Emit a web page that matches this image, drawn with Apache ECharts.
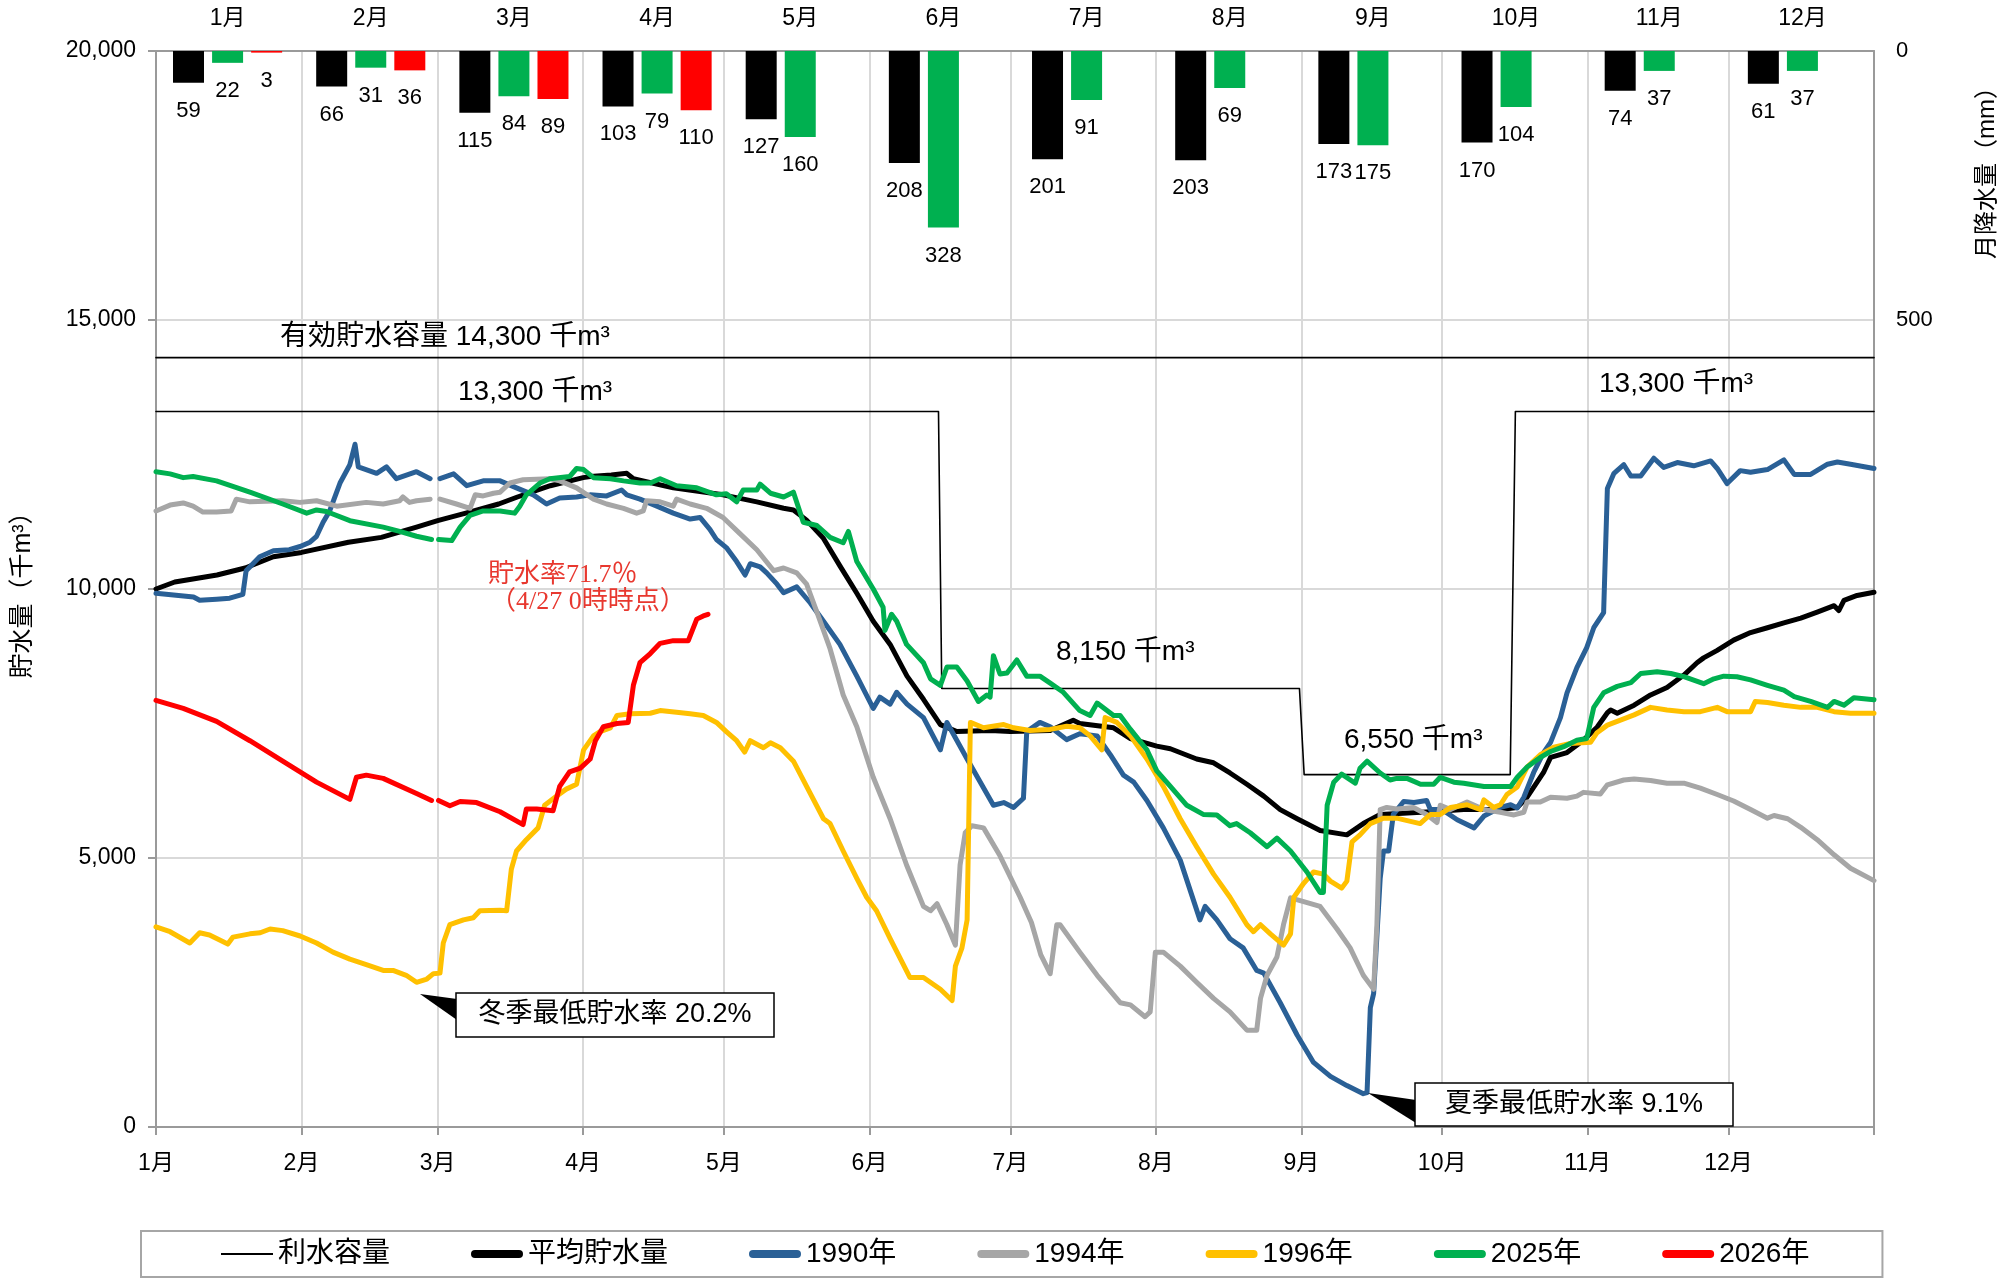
<!DOCTYPE html>
<html><head><meta charset="utf-8">
<script src="https://cdn.jsdelivr.net/npm/echarts@6/dist/echarts.min.js"></script>
<style>html,body{margin:0;padding:0;background:#fff}#c{width:2008px;height:1279px}</style>
</head><body><div id="c"></div>
<script>
// ---- categories / ticks ----
const months = ['1月','2月','3月','4月','5月','6月','7月','8月','9月','10月','11月','12月'];
const monthStartDays = [0,31,60,91,121,152,182,213,244,274,305,335,366];
const rightAxisLabels = [0,500];

// ---- monthly rainfall (mm) ----
const rainAvg  = [59,66,115,103,127,208,201,203,173,170,74,61];
const rain2025 = [22,31,84,79,160,328,91,69,175,104,37,37];
const rain2026 = [3,36,89,110,'-','-','-','-','-','-','-','-'];

// ---- capacities (千m3) ----
const effectiveCapacity = [[0,14300],[366,14300]];
const utilCapacity = [[0,13300],[166.7,13300],[167.4,8150],[243.6,8150],[244.6,6550],[288.5,6550],[289.6,13300],[366,13300]];

// ---- storage (day of year, 千m3) ----
const avgStorage = [[0,10000],[4,10130],[13,10260],[19,10390],[25,10600],[31,10680],[41,10870],[48,10960],[55.5,11150],[60,11270],[66,11410],[73,11580],[77,11710],[84,11920],[91,12070],[92.5,12090],[97,12120],[100.3,12150],[101.7,12050],[110.2,11880],[120.8,11750],[128,11620],[133.7,11500],[135.8,11470],[138.6,11280],[142.2,10940],[145.7,10430],[149.3,9920],[152.8,9400],[156.4,8970],[160,8380],[163.5,7950],[167.1,7480],[170.6,7350],[177.7,7370],[182,7350],[190.5,7370],[195.4,7560],[196.8,7500],[204,7420],[207.6,7220],[213.2,7080],[216.1,7030],[221.7,6840],[225.3,6770],[228.8,6580],[232.4,6370],[236,6150],[239.5,5900],[243.1,5730],[248,5510],[253.7,5430],[257.2,5640],[260.8,5810],[271.5,5860],[278.6,5900],[286.4,5900],[290,5940],[292.1,6130],[295.6,6590],[297.1,6870],[300.6,6960],[304.1,7190],[307,7430],[309.2,7700],[309.9,7750],[311.3,7690],[314.9,7840],[318.4,8030],[321.9,8170],[325.5,8400],[328.3,8630],[329.7,8720],[332.6,8860],[336.1,9050],[339.7,9190],[343.3,9280],[346.8,9370],[350.4,9460],[353.9,9570],[357.5,9690],[358.5,9600],[359.6,9790],[362.4,9880],[366,9940]];

const s1990 = [[0,9920],[8,9850],[9.3,9790],[12.9,9810],[15.7,9830],[18.5,9900],[19.2,10340],[22.1,10600],[25,10710],[28.4,10730],[30.7,10790],[32.8,10870],[34.2,10980],[35.6,11240],[37,11450],[39.2,11970],[41.3,12310],[42.4,12690],[43.1,12270],[47,12150],[49.1,12270],[51.2,12050],[55.5,12180],[58.4,12050],[59,'-'],[60.5,12050],[63.4,12140],[66.2,11920],[69.7,12010],[73.3,12010],[76.8,11880],[80.4,11750],[83.2,11580],[86,11690],[89.6,11710],[92.5,11750],[96,11730],[99.2,11840],[100.3,11750],[103.1,11670],[106.7,11540],[110.2,11410],[113.8,11300],[115.9,11330],[118,11110],[119.4,10920],[121.5,10770],[123.7,10510],[125.5,10260],[126.6,10470],[128.7,10410],[130.1,10300],[132.3,10090],[133.7,9930],[136.5,10040],[139.4,9740],[142.2,9400],[145.7,8970],[149.3,8380],[152.8,7780],[154.2,7990],[156.4,7860],[157.8,8080],[160,7860],[163.5,7610],[167.1,7010],[168.5,7520],[172.8,6840],[178.4,5980],[180.6,6030],[182.7,5940],[184.8,6110],[185.5,7350],[188.3,7520],[190.5,7440],[194,7200],[196.8,7310],[200.5,7270],[203.3,6920],[206.1,6540],[208.3,6410],[211.1,6070],[214.6,5560],[218.2,4960],[222.4,3850],[223.5,4100],[226,3850],[228.8,3500],[231.6,3330],[234.5,2910],[236,2860],[239.5,2310],[243.1,1710],[246.6,1200],[250.2,940],[253.7,770],[257.2,620],[258,640],[258.7,2220],[259.4,2480],[260.8,4620],[261.5,5130],[262.6,5130],[263.6,5810],[265.8,6050],[268,6030],[270.7,6070],[271.5,5900],[274,5900],[277.2,5710],[280.8,5560],[282.9,5780],[286.4,5940],[288.6,5990],[290,5930],[291.4,6130],[293.5,6590],[295.6,6960],[297.1,7150],[299.2,7610],[300.6,8070],[302.7,8540],[304.8,8910],[306.3,9280],[308.4,9560],[309.2,11870],[310.6,12150],[312.7,12310],[314.2,12100],[316.3,12100],[319.1,12430],[321.2,12260],[324.1,12350],[327.6,12290],[331.2,12380],[332.6,12240],[334.7,11960],[337.5,12200],[339.7,12170],[343.3,12220],[346.8,12400],[349,12130],[352.5,12130],[356.1,12320],[358.2,12360],[361,12320],[366,12240]];

const s1994 = [[0,11450],[3,11560],[5.8,11600],[7.9,11540],[10,11430],[12.9,11430],[16,11450],[17.1,11670],[20,11620],[27,11640],[30.7,11610],[34.2,11640],[38.5,11540],[44.8,11610],[48.4,11580],[51.9,11640],[52.6,11710],[54,11610],[55.5,11640],[58.4,11670],[59,'-'],[60.5,11670],[64,11580],[66.9,11500],[68,11750],[69.7,11730],[71.9,11780],[73.3,11800],[75.4,11970],[78.2,12030],[83.9,12050],[86,12010],[89.6,11880],[93.2,11670],[96,11580],[99.6,11500],[102.4,11410],[103.8,11450],[104.5,11640],[107.4,11620],[110.2,11540],[110.9,11670],[113.8,11580],[117.3,11500],[120.8,11330],[124.4,11030],[128,10730],[131.6,10340],[133.7,10390],[136.5,10300],[138.6,10090],[140.8,9570],[143.6,8890],[146.4,8030],[149.3,7440],[152.8,6500],[156.4,5730],[159.9,4870],[163.5,4100],[165,4020],[166.4,4150],[168.5,3760],[170.3,3380],[171.3,4870],[172.4,5470],[173.8,5600],[176.3,5560],[179.8,5040],[184.1,4270],[186.5,3800],[188.5,3200],[190.5,2850],[191.9,3760],[192.6,3760],[196.8,3250],[200.5,2820],[205.4,2310],[207.6,2270],[210.7,2050],[211.8,2140],[212.9,3250],[214.6,3250],[218.2,2990],[221.7,2690],[225.3,2390],[228.8,2140],[232.4,1800],[234.5,1800],[235.3,2390],[236.7,2820],[238.8,3160],[240.2,3760],[241.7,4260],[244.5,4190],[248,4100],[251.6,3680],[254.4,3330],[257.2,2820],[259.4,2560],[260.1,3760],[260.8,5900],[262.2,5940],[264.3,5910],[267.9,5940],[270.7,5810],[272.9,5660],[273.6,5980],[275.8,5900],[279.3,6040],[282.9,5900],[286.4,5850],[289.3,5800],[291.4,5850],[292.1,6040],[294.9,6040],[297.1,6130],[300.6,6110],[302.7,6150],[304.1,6220],[307.7,6190],[309.2,6360],[312.7,6450],[314.9,6470],[318.4,6440],[321.9,6390],[325.5,6390],[329,6300],[332.6,6180],[336.1,6060],[339.7,5900],[343.3,5740],[344.7,5790],[347.6,5730],[350.4,5570],[353.9,5340],[357.5,5060],[361,4810],[366,4580]];

const s1996 = [[0,3720],[3,3630],[7.2,3420],[9.3,3610],[11.4,3570],[15.3,3400],[16.4,3530],[20,3590],[22.2,3610],[24.3,3680],[27,3650],[30.7,3550],[34.2,3420],[37.7,3250],[41.3,3120],[44.8,3020],[48.4,2910],[50.5,2910],[53.3,2820],[55.5,2690],[57.7,2750],[59.1,2850],[60.5,2860],[61.2,3420],[62.6,3760],[65.5,3850],[67.6,3890],[69,4020],[73.3,4030],[74.7,4020],[75.7,4790],[76.8,5130],[78.9,5340],[81.4,5560],[82.8,5980],[85.3,6150],[87.4,6280],[89.6,6370],[91.1,7010],[93.2,7270],[94.6,7350],[96.8,7420],[98.2,7650],[101,7680],[105.3,7690],[107.4,7740],[110.9,7710],[113.8,7680],[116.6,7650],[119.4,7520],[121.5,7350],[123.7,7180],[125.4,6970],[126.6,7180],[129.4,7050],[130.9,7140],[133,7050],[135.8,6800],[138.6,6330],[142.2,5730],[143.6,5640],[146.4,5130],[149.3,4620],[151.4,4270],[153.5,4020],[156.4,3500],[160.6,2780],[163.5,2780],[167.1,2560],[169.6,2350],[170.3,2990],[171.7,3330],[172.8,3850],[173.5,7520],[176.3,7420],[180.6,7480],[182.7,7420],[186.2,7370],[190.5,7390],[194,7450],[196.8,7420],[199,7270],[201.5,7010],[202.2,7610],[204.7,7520],[207.6,7270],[211.1,6840],[214.6,6330],[218.2,5730],[221.7,5210],[225.3,4700],[228.8,4270],[232.4,3760],[233.8,3630],[235.3,3760],[237.4,3590],[240.2,3380],[241.7,3590],[242.4,4270],[244.5,4530],[246.6,4740],[248.7,4700],[250.2,4570],[252.6,4440],[253.7,4570],[254.8,5300],[256.5,5430],[258.7,5640],[261.5,5740],[264.3,5740],[269.3,5640],[271.5,5810],[273.6,5810],[275.8,5940],[279.3,5990],[282.2,5900],[282.9,6080],[285,5940],[286.4,5990],[287.8,6180],[290,6320],[292.1,6690],[294.9,6920],[297.8,7060],[301.3,7130],[305.6,7150],[307,7330],[309.2,7470],[314.9,7660],[318.4,7800],[321.9,7750],[325.5,7720],[329,7720],[332.6,7800],[334.7,7720],[339.7,7720],[340.7,7910],[343.3,7890],[346.8,7840],[350.4,7800],[353.9,7800],[357.5,7720],[361,7690],[366,7690]];

const s2025 = [[0,12180],[3,12140],[5.8,12070],[7.9,12090],[12.9,12010],[20,11800],[27,11580],[32.1,11410],[34.2,11470],[36.3,11440],[41.3,11270],[48.4,11150],[51.9,11070],[55.5,10980],[58.7,10920],[59,'-'],[60.2,10920],[63,10900],[64.8,11150],[66.9,11370],[69.7,11450],[73.3,11450],[76.4,11410],[77.5,11540],[78.9,11750],[81.8,11970],[83.9,12050],[88.1,12090],[89.6,12240],[91.1,12220],[93.2,12070],[96.8,12050],[99.6,12010],[103.1,11970],[105.3,11970],[107.4,12050],[110.9,11920],[115.2,11880],[119.4,11750],[121.5,11770],[123.7,11620],[125.1,11840],[128,11840],[128.7,11950],[130.9,11780],[133.7,11710],[135.8,11800],[137.9,11240],[140.8,11180],[143.6,10960],[146.4,10860],[147.5,11070],[149.3,10510],[152.8,10000],[154.9,9660],[155.3,9230],[156.7,9530],[157.8,9400],[159.9,8970],[163.5,8630],[165,8330],[167.1,8210],[168.5,8550],[170.6,8550],[172.8,8290],[175.2,7910],[177,8030],[177.7,7990],[178.4,8760],[179.8,8420],[181.3,8440],[183.4,8680],[185.5,8380],[188.3,8380],[190.5,8250],[193.3,8080],[196.8,7740],[199,7650],[200.5,7880],[204,7650],[205.4,7650],[207.6,7390],[211.1,7010],[213.2,6620],[216.1,6330],[219.6,5980],[223.1,5810],[226,5800],[228.8,5600],[230.2,5640],[233.1,5470],[236.7,5210],[238.8,5370],[241.7,5130],[245.2,4740],[248,4360],[248.7,4360],[249.5,5980],[250.9,6410],[252.6,6560],[255.5,6390],[256.5,6670],[258,6800],[260.8,6580],[262.9,6450],[264.3,6480],[266.5,6480],[269.4,6370],[272.2,6370],[273.6,6500],[276.5,6410],[278.6,6390],[282.9,6330],[288.6,6330],[290,6500],[292.1,6690],[294.9,6870],[297.1,6980],[299.9,7070],[302.7,7190],[304.8,7220],[306.3,7800],[308.4,8070],[311.3,8190],[314.2,8260],[316.3,8430],[319.8,8460],[322.7,8430],[325.5,8370],[329.7,8240],[331.9,8330],[334,8380],[336.8,8370],[339.7,8310],[343.3,8210],[346.8,8120],[349,8000],[352.5,7910],[356.1,7800],[357.5,7910],[359.6,7840],[361.7,7980],[366,7940]];

const s2026 = [[0,7930],[5.8,7780],[12.9,7540],[20,7180],[27,6800],[34.2,6410],[41.3,6090],[42.7,6500],[44.8,6540],[48.4,6480],[55.5,6200],[58.7,6070],[59,'-'],[60.2,6070],[62.6,5970],[64.8,6050],[68.3,6030],[73.3,5860],[78.2,5620],[78.9,5910],[81.1,5910],[84.6,5880],[86,6330],[88.1,6600],[90.4,6670],[92.5,6840],[93.6,7180],[95.3,7440],[98.2,7500],[100.6,7520],[101.7,8210],[103.1,8630],[105.3,8800],[107.4,8990],[110.2,9040],[113.4,9040],[115.2,9440],[116.6,9500],[117.6,9530]];

const FONT = "'Liberation Sans', Arial, 'Noto Sans CJK JP', sans-serif";
const SERIF = "'Liberation Serif', 'Noto Sans CJK JP', serif";
const chart = echarts.init(document.getElementById('c'), null, {renderer:'canvas'});
const GRID = '#d9d9d9', AXIS = '#9a9a9a';

function lineSeries(name, data, color, width, z) {
  return {type:'line', name, data, xAxisIndex:0, yAxisIndex:0, symbol:'none', showSymbol:false,
    connectNulls:false, silent:true, z:z||3, animation:false,
    lineStyle:{color, width, cap:'round', join:'round'}, itemStyle:{color}};
}
function barSeries(name, data, color) {
  return {type:'bar', name, data, xAxisIndex:1, yAxisIndex:1, barWidth:31, barGap:'26%', silent:true,
    itemStyle:{color}, label:{show:true, position:'bottom', distance:17, color:'#000', fontSize:22, fontFamily:FONT,
    formatter:(p)=> (p.value==='-'||p.value==null)?'':String(p.value)}};
}
function txt(x, y, text, size, extra) {
  return Object.assign({type:'text', x, y, z:10, silent:true,
    style:Object.assign({text, font:size+'px '+FONT, fill:'#000', align:'left', verticalAlign:'middle'}, extra||{})});
}
const thick = 'path://M4,0H48A4,4,0,0,1,48,8H4A4,4,0,0,1,4,0Z';
const thin = 'path://M0,0H52V2H0Z';

const option = {
  animation:false,
  backgroundColor:'#fff',
  textStyle:{fontFamily:FONT},
  grid:{left:156, right:134, top:51, bottom:152, containLabel:false},
  legend:{
    left:141, top:1231, orient:'horizontal', itemGap:81, itemWidth:52, itemHeight:8,
    padding:[9,73,9,80], borderColor:'#a6a6a6', borderWidth:2, selectedMode:false,
    textStyle:{fontSize:28, color:'#000', fontFamily:FONT},
    data:[
      {name:'利水容量', icon:thin},
      {name:'平均貯水量', icon:thick},
      {name:'1990年', icon:thick},
      {name:'1994年', icon:thick},
      {name:'1996年', icon:thick},
      {name:'2025年', icon:thick},
      {name:'2026年', icon:thick}
    ]
  },
  xAxis:[
    {type:'value', position:'bottom', min:0, max:366,
      axisLine:{show:true, lineStyle:{color:AXIS, width:2}},
      axisTick:{show:true, length:8, customValues:monthStartDays, lineStyle:{color:AXIS, width:2}},
      axisLabel:{customValues:monthStartDays.slice(0,12), margin:25, fontSize:23, color:'#000', fontFamily:FONT,
        formatter:(v)=>{const i=monthStartDays.indexOf(v); return i>=0&&i<12?months[i]:'';}},
      splitLine:{show:true, lineStyle:{color:GRID, width:2}}
    },
    {type:'category', position:'top', data:months, boundaryGap:true,
      axisLine:{show:true, lineStyle:{color:AXIS, width:2}},
      axisTick:{show:false},
      axisLabel:{margin:21, fontSize:23, color:'#000', fontFamily:FONT},
      splitLine:{show:false}
    }
  ],
  yAxis:[
    {type:'value', min:0, max:20000, interval:5000, position:'left',
      axisLine:{show:true, lineStyle:{color:AXIS, width:2}},
      axisTick:{show:true, length:8, lineStyle:{color:AXIS, width:2}},
      axisLabel:{margin:20, fontSize:23, color:'#000', fontFamily:FONT},
      splitLine:{show:true, lineStyle:{color:GRID, width:2}}
    },
    {type:'value', min:0, max:2000, inverse:true, position:'right',
      axisLine:{show:true, lineStyle:{color:AXIS, width:2}},
      axisTick:{show:false},
      axisLabel:{customValues:rightAxisLabels, margin:22, fontSize:22, color:'#000', fontFamily:FONT},
      splitLine:{show:false}
    }
  ],
  series:[
    barSeries('降水量平年', rainAvg, '#000000'),
    barSeries('降水量2025', rain2025, '#00b050'),
    barSeries('降水量2026', rain2026, '#ff0000'),
    lineSeries('有効貯水容量', effectiveCapacity, '#000', 1.6, 2),
    lineSeries('利水容量', utilCapacity, '#000', 1.6, 2),
    lineSeries('平均貯水量', avgStorage, '#000000', 5),
    lineSeries('1990年', s1990, '#2a6096', 5),
    lineSeries('1994年', s1994, '#a6a6a6', 5),
    lineSeries('1996年', s1996, '#ffc000', 5),
    lineSeries('2025年', s2025, '#00b050', 5),
    lineSeries('2026年', s2026, '#ff0000', 5)
  ],
  graphic:[
    Object.assign(txt(23, 589, '貯水量（千m³）', 25, {align:'center'}), {rotation:Math.PI/2}),
    Object.assign(txt(1987, 167, '月降水量（mm）', 24, {align:'center'}), {rotation:Math.PI/2}),
    txt(280, 337, '有効貯水容量 14,300 千m³', 28),
    txt(458, 392, '13,300 千m³', 28),
    txt(1056, 652, '8,150 千m³', 28),
    txt(1344, 740, '6,550 千m³', 28),
    txt(1599, 384, '13,300 千m³', 28),
    txt(488, 575, '貯水率71.7％', 26, {font:'26px '+SERIF, fill:'#e8382f'}),
    txt(490, 602, '（4/27 0時時点）', 26, {font:'26px '+SERIF, fill:'#e8382f'}),
    {type:'polygon', shape:{points:[[420,994],[457,999],[457,1020]]}, style:{fill:'#000'}, z:10, silent:true},
    {type:'rect', shape:{x:456, y:993, width:318, height:44}, style:{fill:'#fff', stroke:'#000', lineWidth:1.5}, z:10, silent:true},
    txt(615, 1015, '冬季最低貯水率 20.2%', 27, {align:'center'}),
    {type:'polygon', shape:{points:[[1368,1093],[1416,1100],[1416,1123]]}, style:{fill:'#000'}, z:10, silent:true},
    {type:'rect', shape:{x:1415, y:1083, width:318, height:43}, style:{fill:'#fff', stroke:'#000', lineWidth:1.5}, z:10, silent:true},
    txt(1574, 1104.5, '夏季最低貯水率 9.1%', 27, {align:'center'})
  ]
};
chart.setOption(option);
</script></body></html>
